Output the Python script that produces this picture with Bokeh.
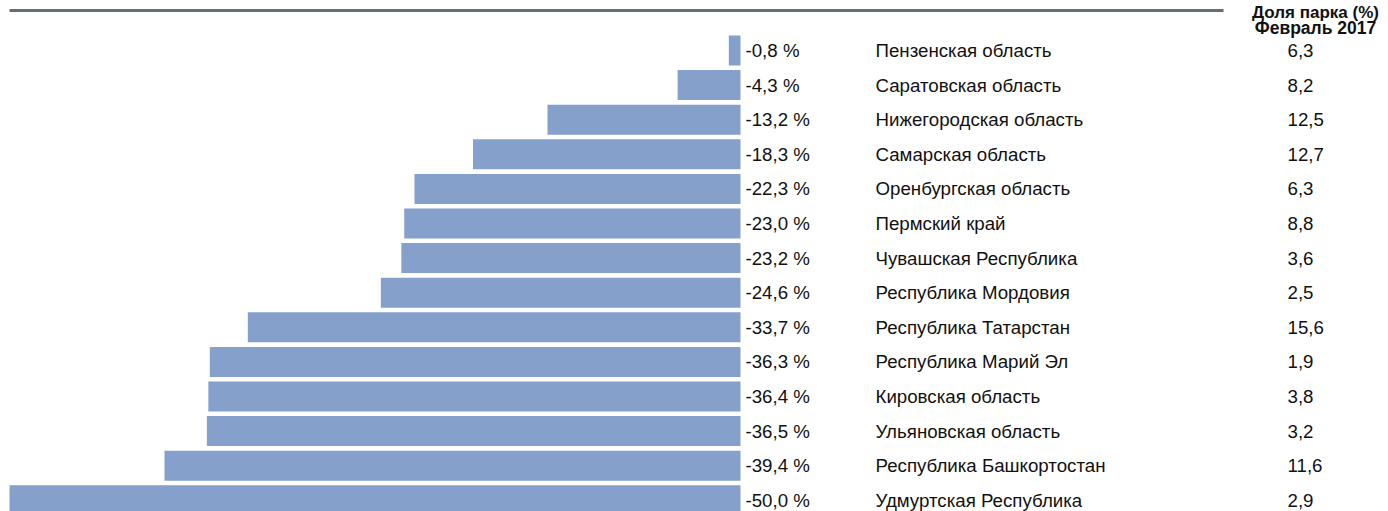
from bokeh.plotting import figure
from bokeh.models import ColumnDataSource, Range1d
from bokeh.core.properties import value
from bokeh.embed import file_html
from bokeh.resources import INLINE

regions = ["Пензенская область", "Саратовская область", "Нижегородская область",
           "Самарская область", "Оренбургская область", "Пермский край",
           "Чувашская Республика", "Республика Мордовия", "Республика Татарстан",
           "Республика Марий Эл", "Кировская область", "Ульяновская область",
           "Республика Башкортостан", "Удмуртская Республика"]
change = [-0.8, -4.3, -13.2, -18.3, -22.3, -23.0, -23.2, -24.6, -33.7, -36.3,
          -36.4, -36.5, -39.4, -50.0]
share = [6.3, 8.2, 12.5, 12.7, 6.3, 8.8, 3.6, 2.5, 15.6, 1.9, 3.8, 3.2, 11.6, 2.9]
header_top = "Доля парка (%)"
header_bottom = "Февраль 2017"

# layout (pixels)
W, H = 1388, 511
PX = 14.62       # px per percent
ZERO_PX = 740    # canvas x of 0
ROW = 34.6       # px per row
ROW0 = 50        # canvas y of first row centre

x_start = -ZERO_PX / PX
x_end = (W - ZERO_PX) / PX
y_top = -ROW0 / ROW
y_bottom = (H - ROW0) / ROW

def dx(px):
    return x_start + px / PX

def dy(py):
    return y_top + py / ROW

FONT = value("Liberation Sans")
BAR = "#85A1CB"
TXT = "#111111"
FS = "18.7px"

src = ColumnDataSource(dict(
    y=list(range(len(regions))),
    change=change,
    region=regions,
    clabel=[f"{v:.1f} %".replace(".", ",") for v in change],
    slabel=[f"{v:.1f}".replace(".", ",") for v in share],
))

p = figure(width=W, height=H, output_backend="svg", toolbar_location=None,
           x_range=Range1d(x_start, x_end), y_range=Range1d(y_bottom, y_top),
           x_axis_location=None, y_axis_location=None, min_border=0,
           outline_line_color=None, background_fill_color="white",
           border_fill_color="white")
p.xgrid.visible = False
p.ygrid.visible = False

p.hbar(y="y", left="change", right=0, height=30 / ROW, source=src,
       fill_color=BAR, line_color=None)

p.text(x=0, y="y", text="clabel", source=src, x_offset=5,
       text_font=FONT, text_font_size=FS, text_color=TXT,
       text_align="left", text_baseline="middle")
p.text(x=0, y="y", text="region", source=src, x_offset=135,
       text_font=FONT, text_font_size=FS, text_color=TXT,
       text_align="left", text_baseline="middle")
p.text(x=0, y="y", text="slabel", source=src, x_offset=547,
       text_font=FONT, text_font_size=FS, text_color=TXT,
       text_align="left", text_baseline="middle")

# top rule
p.segment(x0=dx(9), x1=dx(1223), y0=dy(10), y1=dy(10),
          line_color="#646E78", line_width=3)

# header
p.text(x=[dx(1315)], y=[dy(12)], text=[header_top], text_font=FONT,
       text_font_size="17px", text_font_style="bold", text_color=TXT,
       text_align="center", text_baseline="alphabetic")
p.text(x=[dx(1315)], y=[dy(27.5)], text=[header_bottom], text_font=FONT,
       text_font_size="17.5px", text_font_style="bold", text_color=TXT,
       text_align="center", text_baseline="alphabetic")

open("out.html", "w").write(file_html(p, INLINE))
